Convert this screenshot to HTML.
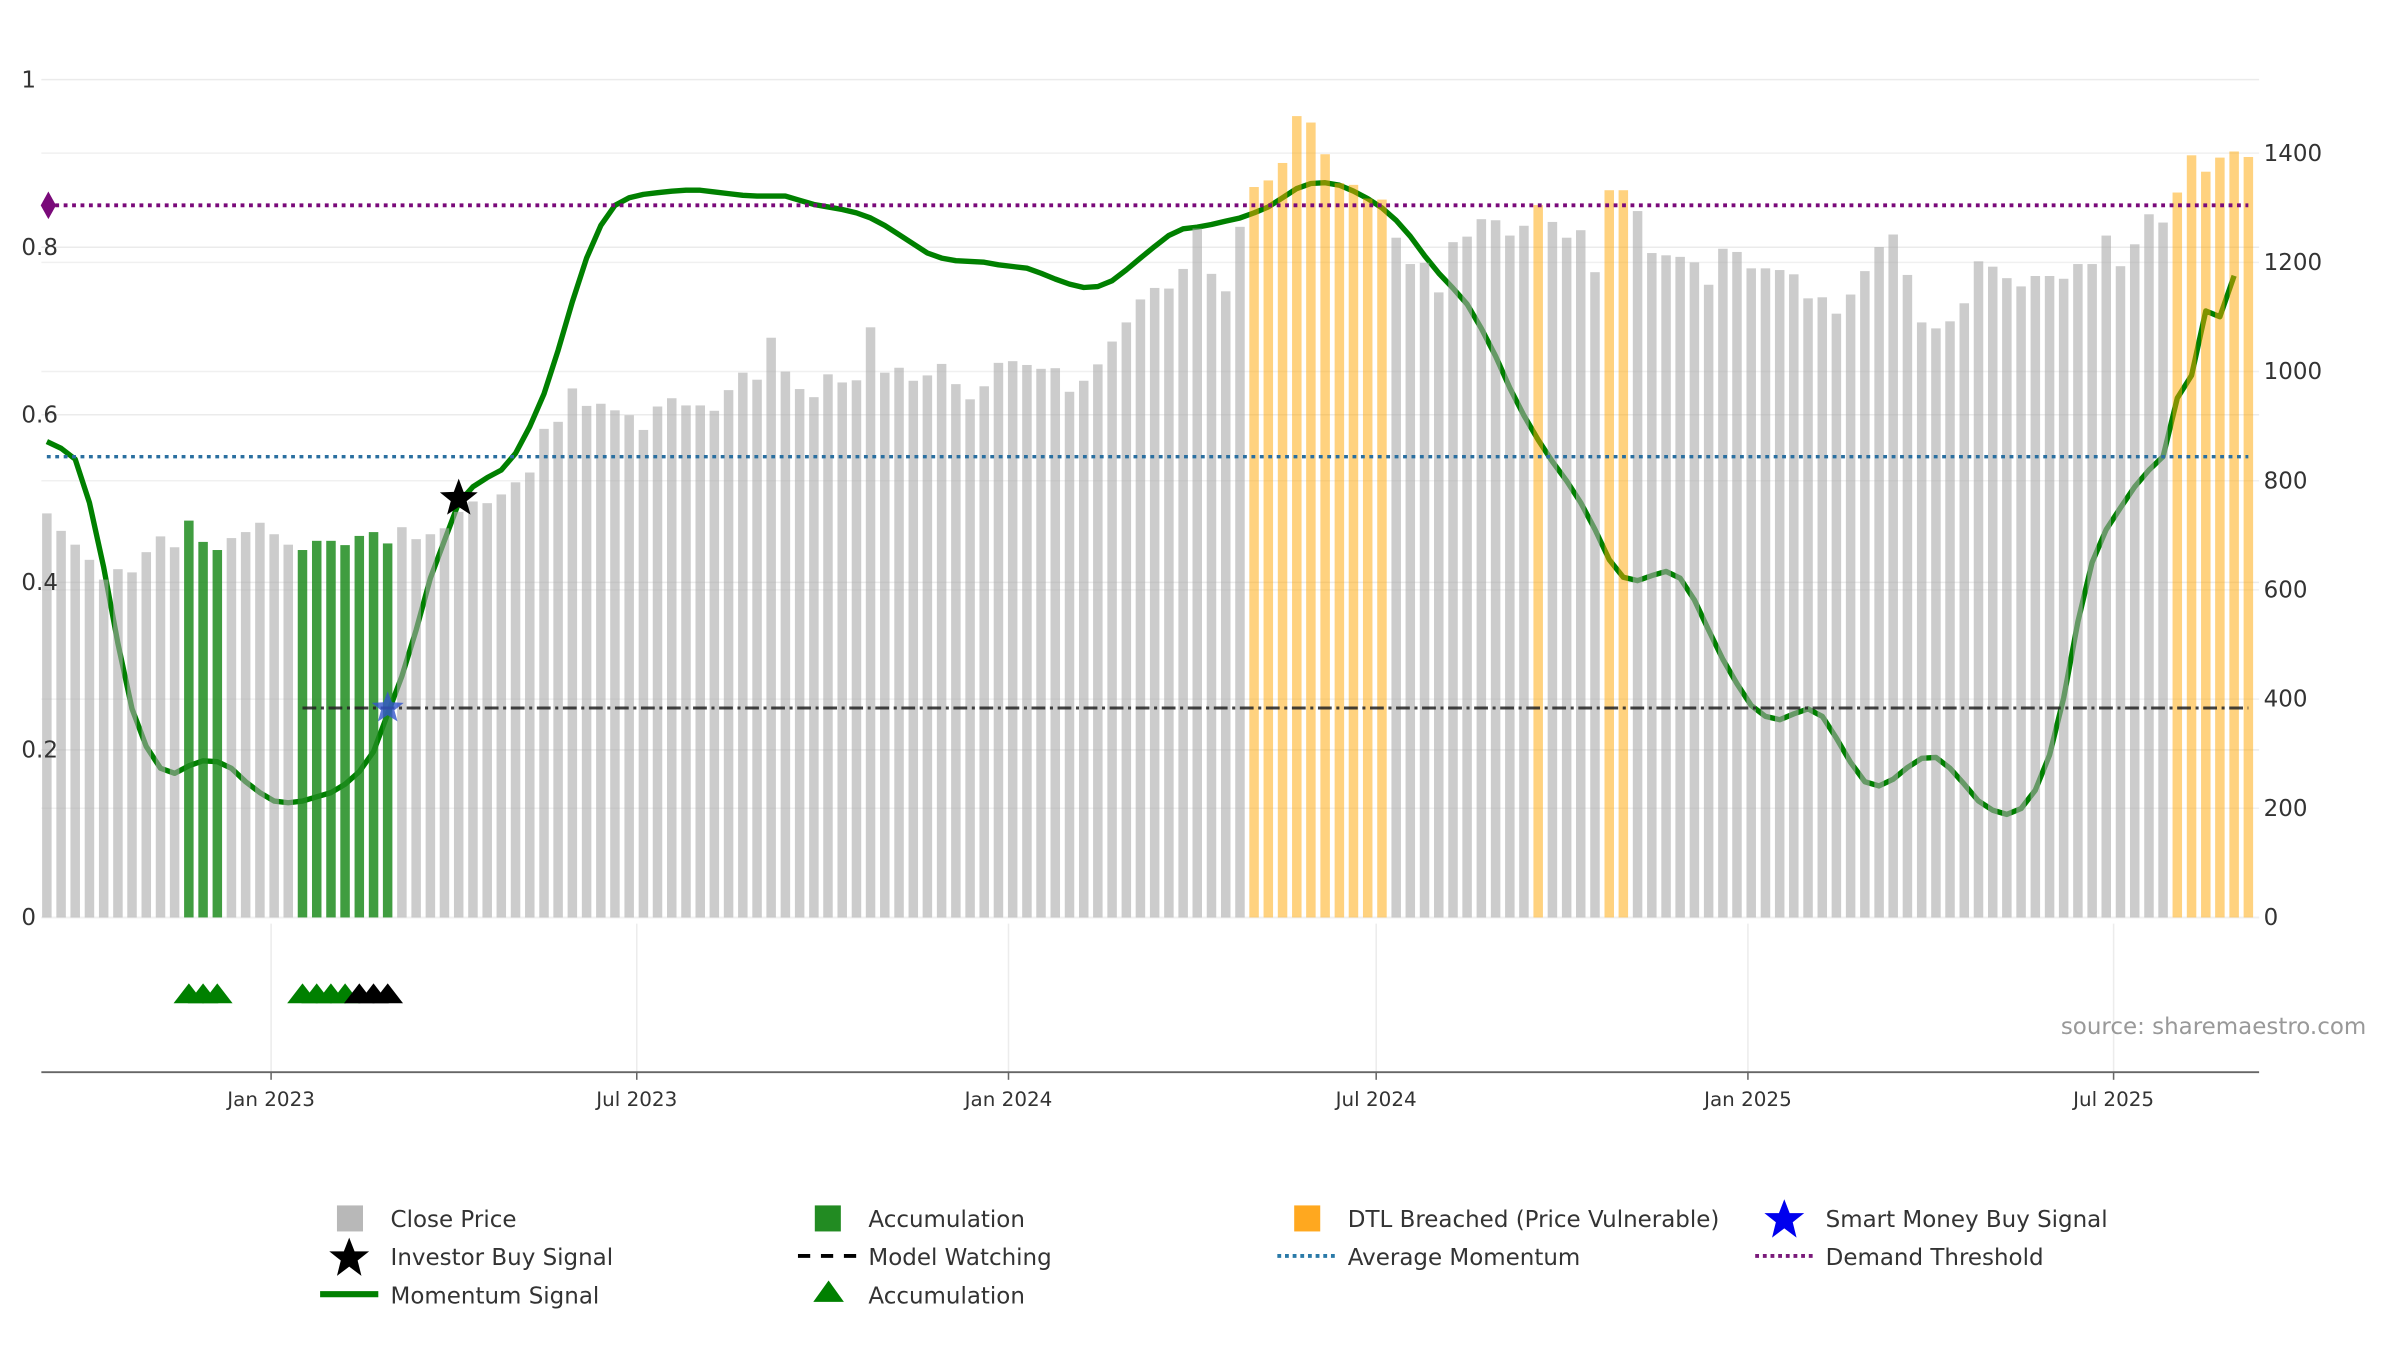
<!DOCTYPE html>
<html><head><meta charset="utf-8"><title>Momentum chart</title>
<style>
html,body{margin:0;padding:0;background:#fff;}
svg{display:block;font-family:"DejaVu Sans","Liberation Sans",sans-serif;}
</style></head>
<body>
<svg id="chart" width="2400" height="1350" viewBox="0 0 1567 881.4" preserveAspectRatio="none" xmlns="http://www.w3.org/2000/svg">
<g id="grid"></g>
<g id="line-layer"></g>
<g id="bar-layer"></g>
<g id="ref-layer"></g>
<g id="axes"></g>
<g id="lower"></g>
<text x="1545" y="675" text-anchor="end" font-size="15" fill="#999">source: sharemaestro.com</text>
<g id="legend" font-size="15" fill="#333">
  <g><rect x="220" y="787" width="17" height="17" fill="#b8b8b8"/><text x="255" y="801">Close Price</text></g>
  <g><rect x="532" y="787" width="17" height="17" fill="#228b22"/><text x="567" y="801">Accumulation</text></g>
  <g><rect x="845" y="787" width="17" height="17" fill="#ffa81f"/><text x="880" y="801">DTL Breached (Price Vulnerable)</text></g>
  <g><polygon points="1165,783 1168.5,792 1178,792 1170.5,798 1173,808 1165,802 1157,808 1159.5,798 1152,792 1161.5,792" fill="#0000ee"/><text x="1192" y="801">Smart Money Buy Signal</text></g>
  <g><polygon points="228,808 231.5,817 241,817 233.5,823 236,833 228,827 220,833 222.5,823 215,817 224.5,817" fill="#000"/><text x="255" y="826">Investor Buy Signal</text></g>
  <g><line x1="521" y1="820" x2="559" y2="820" stroke="#000" stroke-width="2.5" stroke-dasharray="8,7"/><text x="567" y="826">Model Watching</text></g>
  <g><line x1="834" y1="820" x2="872" y2="820" stroke="#2a7aa8" stroke-width="2.5" stroke-dasharray="2.5,2.5"/><text x="880" y="826">Average Momentum</text></g>
  <g><line x1="1146" y1="820" x2="1184" y2="820" stroke="#7a1a7a" stroke-width="2.5" stroke-dasharray="2.5,2.5"/><text x="1192" y="826">Demand Threshold</text></g>
  <g><line x1="209" y1="845" x2="247" y2="845" stroke="#008000" stroke-width="4"/><text x="255" y="851">Momentum Signal</text></g>
  <g><polygon points="541,836 551,850 531,850" fill="#008000"/><text x="567" y="851">Accumulation</text></g>
</g>
</svg>
<script>
const prices = [740,708,683,655,619,638,632,669,698,678,727,688,673,695,706,723,702,683,673,690,690,682,699,706,685,715,693,702,713,743,762,759,775,797,815,895,908,969,937,941,929,920,893,936,951,938,938,928,966,998,985,1062,1000,968,953,995,980,984,1081,998,1007,983,993,1014,977,949,973,1016,1019,1012,1005,1006,963,983,1013,1055,1090,1132,1153,1152,1188,1262,1179,1147,1265,1338,1350,1382,1468,1456,1398,1345,1342,1317,1315,1245,1197,1199,1145,1237,1247,1279,1277,1249,1267,1305,1274,1245,1259,1182,1332,1332,1294,1217,1213,1210,1200,1159,1225,1219,1189,1189,1186,1178,1134,1136,1106,1141,1184,1228,1251,1177,1090,1079,1092,1125,1202,1192,1171,1156,1175,1175,1170,1197,1197,1249,1193,1233,1288,1273,1328,1396,1366,1392,1403,1393];
const momentum = [0.568,0.56,0.547,0.495,0.418,0.327,0.249,0.204,0.178,0.172,0.181,0.187,0.186,0.178,0.162,0.149,0.139,0.137,0.139,0.144,0.149,0.159,0.174,0.198,0.243,0.288,0.343,0.405,0.45,0.495,0.514,0.525,0.534,0.554,0.586,0.625,0.677,0.735,0.787,0.826,0.85,0.859,0.863,0.865,0.867,0.868,0.868,0.866,0.864,0.862,0.861,0.861,0.861,0.856,0.851,0.848,0.845,0.841,0.835,0.826,0.815,0.804,0.793,0.787,0.784,0.783,0.782,0.779,0.777,0.775,0.769,0.762,0.756,0.752,0.753,0.76,0.773,0.787,0.801,0.814,0.822,0.824,0.827,0.831,0.835,0.841,0.848,0.859,0.87,0.876,0.877,0.874,0.867,0.858,0.847,0.832,0.813,0.79,0.769,0.751,0.732,0.703,0.67,0.632,0.599,0.57,0.544,0.521,0.495,0.463,0.427,0.406,0.402,0.408,0.413,0.405,0.379,0.343,0.308,0.279,0.253,0.24,0.236,0.243,0.249,0.24,0.214,0.185,0.162,0.157,0.165,0.179,0.19,0.191,0.178,0.159,0.139,0.128,0.123,0.13,0.152,0.194,0.262,0.353,0.424,0.463,0.489,0.514,0.534,0.55,0.62,0.647,0.724,0.717,0.766];
const accumulationBars = [10,11,12,18,19,20,21,22,23,24];
const dtlBars = [85,86,87,88,89,90,91,92,93,94,105,110,111,150,151,152,153,154,155];
const greenTriangles = [10,11,12,18,19,20,21];
const blackTriangles = [22,23,24];
const investorBuy = [{i:29, m:0.5}];
const smartMoney = [{i:24, m:0.25}];
const demandThreshold = 0.85;
const avgMomentum = 0.55;
const modelWatching = 0.25;
const modelWatchStart = 18;
const leftTicks = [0,0.2,0.4,0.6,0.8,1];
const leftTickLabels = ["0","0.2","0.4","0.6","0.8","1"];
const rightTicks = [0,200,400,600,800,1000,1200,1400];
const xTickDates = ["2023-01-01","2023-07-01","2024-01-01","2024-07-01","2025-01-01","2025-07-01"];
const xTickLabels = ["Jan 2023","Jul 2023","Jan 2024","Jul 2024","Jan 2025","Jul 2025"];
const startDate = "2022-09-12";

const NS = "http://www.w3.org/2000/svg";
const DAY = 86400000;
const t0 = Date.parse("2023-01-01"), t1 = Date.parse("2025-07-01");
function xTime(ms){ return 177 + (ms - t0)/(t1 - t0)*(1380-177); }
function xBar(i){ return xTime(Date.parse(startDate) + i*7*DAY) + i*0.04; }
function yL(v){ return 599 - v*547; }
function yR(v){ return 599 - v/1400*499; }
function mk(tag, attrs, parent){ const e=document.createElementNS(NS,tag); for(const k in attrs) e.setAttribute(k,attrs[k]); parent.appendChild(e); return e; }

const grid=document.getElementById('grid');
leftTicks.forEach(v=>{ const l=mk('line',{x1:27,x2:1475,y1:yL(v),y2:yL(v),stroke:'#ebebeb','stroke-width':1},grid);

 });
rightTicks.forEach(v=>{ const l=mk('line',{x1:27,x2:1475,y1:yR(v),y2:yR(v),stroke:'#f0f0f0','stroke-width':1},grid);

 });

const ll=document.getElementById('line-layer');
const pts=momentum.map((m,i)=>xBar(i).toFixed(1)+','+yL(m).toFixed(1)).join(' ');
const pl=mk('polyline',{points:pts,fill:'none',stroke:'#008000','stroke-width':3.5,'stroke-linejoin':'round'},ll);



const bl=document.getElementById('bar-layer');
prices.forEach((p,i)=>{
  let fill='#aaaaaa', op=0.6, name='close-price-bar';
  if(accumulationBars.includes(i)){fill='#1e8c1e';op=0.85;name='accumulation-bar';}
  else if(dtlBars.includes(i)){fill='#ffa500';op=0.5;name='dtl-breached-bar';}
  const r=mk('rect',{x:(xBar(i)-3.1).toFixed(1),y:yR(p).toFixed(1),width:6.2,height:(599-yR(p)).toFixed(1),fill:fill,'fill-opacity':op},bl);
  
  
});

const rl=document.getElementById('ref-layer');
let e=mk('line',{x1:xBar(0),x2:xBar(prices.length-1),y1:yL(demandThreshold),y2:yL(demandThreshold),stroke:'#7a0a7a','stroke-width':2.5,'stroke-dasharray':'2.5,3'},rl);


e=mk('polygon',{points:`${xBar(0)-4},${yL(demandThreshold)} ${xBar(0)+1},${yL(demandThreshold)-9} ${xBar(0)+6},${yL(demandThreshold)} ${xBar(0)+1},${yL(demandThreshold)+9}`,fill:'#7a0a7a'},rl);


e=mk('line',{x1:xBar(0),x2:xBar(prices.length-1),y1:yL(avgMomentum),y2:yL(avgMomentum),stroke:'#2a6fa0','stroke-width':2.2,'stroke-dasharray':'2.5,3'},rl);


e=mk('line',{x1:xBar(modelWatchStart),x2:xBar(prices.length-1),y1:yL(modelWatching),y2:yL(modelWatching),stroke:'#222','stroke-width':2,'stroke-dasharray':'9,3,2,3','stroke-opacity':0.85},rl);


function star(cx,cy,R,fill,parent){ const p=[]; for(let k=0;k<10;k++){const a=-Math.PI/2+k*Math.PI/5; const r=k%2?R*0.42:R; p.push((cx+r*Math.cos(a)).toFixed(1)+','+(cy+r*Math.sin(a)).toFixed(1));} return mk('polygon',{points:p.join(' '),fill:fill},parent); }
smartMoney.forEach(s=>{ const st=star(xBar(s.i),yL(s.m),11,'#3355cc',rl); st.setAttribute('fill-opacity','0.8');

 });
investorBuy.forEach(s=>{ const st=star(xBar(s.i),yL(s.m),13,'#000',rl);

 });

const ax=document.getElementById('axes');
leftTicks.forEach((v,k)=>{ const t=mk('text',{x:14,y:yL(v)+5,'font-size':15,fill:'#333'},ax); t.textContent=leftTickLabels[k];

 });
rightTicks.forEach(v=>{ const t=mk('text',{x:1478,y:yR(v)+5,'font-size':15,fill:'#333'},ax); t.textContent=String(v);

 });

const lw=document.getElementById('lower');
xTickDates.forEach((d,k)=>{ const x=xTime(Date.parse(d));
  const g=mk('line',{x1:x,x2:x,y1:603,y2:700,stroke:'#ececec','stroke-width':1},lw);
  
  
  const tk=mk('line',{x1:x,x2:x,y1:700,y2:705,stroke:'#666','stroke-width':1},lw);
  
  
  const t=mk('text',{x:x,y:722,'text-anchor':'middle','font-size':13,fill:'#333'},lw); t.textContent=xTickLabels[k];
  
  
});
e=mk('line',{x1:27,x2:1475,y1:700,y2:700,stroke:'#666','stroke-width':1.2},lw);


function tri(i,fill){ const x=xBar(i); return mk('polygon',{points:`${x},642 ${x+10},655 ${x-10},655`,fill:fill},lw); }
greenTriangles.forEach(i=>{ const t=tri(i,'#008000');

 });
blackTriangles.forEach(i=>{ const t=tri(i,'#000');

 });
</script>
</body></html>
